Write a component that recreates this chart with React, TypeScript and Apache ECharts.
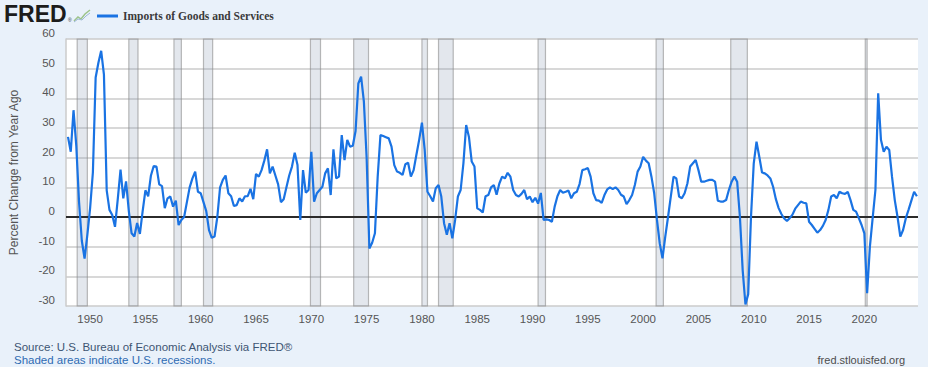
import React, { useEffect, useRef } from "react";
import * as echarts from "echarts";

// Quarterly series, first observation 1948 Q1
const START_YEAR = 1948;
const PERIODS_PER_YEAR = 4;
const importsYoY = [
  27, 22, 36, 24, 5, -8, -14, -6, 3, 15,
  47, 52, 56, 48, 9, 2.4, 0.7, -3.3, 6, 16,
  6.3, 12, 2, -5.5, -6.6, -2, -5.7, 2, 9, 7,
  14, 17.2, 17, 11, 10.4, 3, 6.3, 6.9, 3.5, 5.5,
  -2.7, -1, 0, 5, 10, 13, 15.3, 8.5, 8, 5,
  2, -4.4, -7, -6.6, 0, 10, 12.5, 14, 8, 7,
  3.7, 4, 6.3, 5.2, 7, 7, 9.5, 6, 14.5, 13.6,
  15.8, 19, 22.8, 14.7, 17, 14, 11, 5, 6, 10,
  14, 17, 21.7, 17.5, -1, 15.8, 8.2, 9.1, 22, 5.2,
  8, 9.1, 10.2, 14.7, 16.4, 7.4, 22.8, 13, 13.6, 27.6,
  19.2, 26, 23.7, 24, 29, 45, 47.3, 39, 20, -10.6,
  -8.7, -5.5, 13.6, 27.6, 27.3, 26.9, 26.5, 23.7, 17.5, 15.3,
  14.9, 14.2, 17.8, 18.3, 13.6, 15.8, 21, 26, 31.8, 22.6,
  8.5, 7, 5.2, 9.7, 10.8, 6.9, -2.1, -6, -2.1, -7.2,
  -1, 6.9, 9.1, 18.1, 31, 27, 18.7, 17, 2.9, 2.4,
  1.5, 7, 7.4, 10, 10.8, 7.5, 11.3, 13.6, 13, 14.9,
  13.6, 9.1, 7.4, 6.9, 7.8, 9.1, 6, 6.9, 5, 6.5,
  4.5, 8.1, -1, -0.8, -1, -1.6, 3.5, 7, 9.1, 8.2,
  8.5, 8.9, 6.3, 8, 8.5, 11.1, 15.8, 16.1, 16.5, 13.6,
  8, 5.7, 5.5, 4.8, 7.4, 9.3, 10, 9.4, 10, 9.1,
  7.5, 6.9, 4.3, 5.7, 7.4, 10.8, 15.3, 17, 20.3, 19,
  18.1, 13.6, 8, -1, -8.9, -13.9, -6.6, 0, 6.9, 13.6,
  13, 6.9, 6.3, 8, 11.3, 17, 18.1, 19.2, 15.8, 11.9,
  11.9, 12.2, 12.5, 12.5, 11.9, 5.5, 5.2, 5.2, 5.7, 9.1,
  11.9, 13.6, 11.9, 0, -18, -29.5, -26, 0, 18.1, 25.4,
  20.3, 15, 14.7, 14, 13, 10.2, 6, 3, 1, -0.5,
  -1.3, -0.4, 0.8, 2.8, 4, 5.2, 4.8, 4.6, -1.6, -2.7,
  -4, -5.3, -4.4, -3, -1, 2.4, 6.9, 7.4, 6.3, 8.5,
  8, 7.8, 8.5, 5.7, 2.4, 1.8, -0.4, -2.7, -5.5, -25.7,
  -10, -0.4, 9.1, 41.7, 26, 22, 23.7, 22.6, 13.6, 5.7,
  0, -6.6, -4.4, -0.4, 2.5, 5.5, 8.5, 7,
];

// NBER recessions (decimal years, monthly dates)
const recessionStarts = [1948.83, 1953.5, 1957.58, 1960.25, 1969.92, 1973.83, 1980.0, 1981.5, 1990.5, 2001.17, 2007.92, 2020.08];
const recessionEnds = [1949.75, 1954.33, 1958.25, 1961.08, 1970.83, 1975.17, 1980.5, 1982.83, 1991.17, 2001.83, 2009.42, 2020.25];

const xTickYears = [1950, 1955, 1960, 1965, 1970, 1975, 1980, 1985, 1990, 1995, 2000, 2005, 2010, 2015, 2020];
const yMin = -30;
const yMax = 60;
const yStep = 10;

const SERIES_NAME = "Imports of Goods and Services";
const Y_TITLE = "Percent Change from Year Ago";
const SOURCE_TEXT = "Source: U.S. Bureau of Economic Analysis via FRED\u00AE";
const SHADED_TEXT = "Shaded areas indicate U.S. recessions.";
const SITE_TEXT = "fred.stlouisfed.org";

const BLUE = "#1a73e3";
const GRID = "#cbcbcb";
const SANS = '"Liberation Sans", Arial, sans-serif';
const SERIF = '"Liberation Serif", "Times New Roman", serif';

export default function App() {
  const ref = useRef<HTMLDivElement>(null);

  useEffect(() => {
    if (!ref.current) return;
    const chart = echarts.init(ref.current, null, { renderer: "svg" });

    const points = importsYoY.map((v, i) => [START_YEAR + i / PERIODS_PER_YEAR, v]);
    const areas = recessionStarts.map((s, i) => [{ xAxis: s }, { xAxis: recessionEnds[i] }]);

    chart.setOption({
      animation: false,
      backgroundColor: "#e9f1fa",
      grid: { left: 63, right: 10, top: 39, bottom: 61, backgroundColor: "#ffffff", show: true, borderWidth: 0 },
      xAxis: {
        type: "value",
        min: 1947.82,
        max: 2024.85,
        axisLine: { show: false },
        axisTick: { show: false },
        splitLine: { show: false },
        axisLabel: {
          customValues: xTickYears,
          formatter: (v: number) => String(Math.round(v)),
          color: "#555555",
          fontSize: 11.5,
          fontFamily: SANS,
          margin: 7,
        },
      },
      yAxis: {
        type: "value",
        min: yMin,
        max: yMax,
        interval: yStep,
        name: Y_TITLE,
        nameLocation: "middle",
        nameRotate: 90,
        nameGap: 46,
        nameTextStyle: { color: "#555555", fontSize: 12, fontFamily: SANS },
        axisLine: { show: true, lineStyle: { color: GRID, width: 1.5 } },
        axisTick: { show: false },
        splitLine: { show: true, lineStyle: { color: GRID, width: 1.5 } },
        axisLabel: {
          color: "#555555",
          fontSize: 11.5,
          fontFamily: SANS,
          margin: 11,
          verticalAlign: "bottom",
        },
      },
      series: [
        {
          name: SERIES_NAME,
          type: "line",
          data: points,
          showSymbol: false,
          symbol: "none",
          lineStyle: { color: BLUE, width: 2.2 },
          itemStyle: { color: BLUE },
          z: 5,
          markArea: {
            silent: true,
            itemStyle: { color: "rgba(140,155,178,0.24)", borderColor: "rgba(140,140,140,0.6)", borderWidth: 1.2 },
            data: areas,
          },
          markLine: {
            silent: true,
            symbol: ["none", "none"],
            label: { show: false },
            lineStyle: { color: "#2b2b2b", width: 2, type: "solid" },
            data: [{ yAxis: 0 }],
          },
        },
      ],
      graphic: [
        {
          type: "text",
          left: 4,
          top: 2,
          style: { text: "FRED", fontSize: 23, fontWeight: "bold", fontFamily: SANS, fill: "#1c1c1c" },
        },
        {
          type: "text",
          left: 68,
          top: 17,
          style: { text: "\u00AE", fontSize: 5, fontFamily: SANS, fill: "#333" },
        },
        {
          type: "polyline",
          shape: { points: [[74, 21], [78, 17], [81, 19], [85, 14], [90, 10]] },
          style: { stroke: "#9cc38a", lineWidth: 1.5, fill: "none" },
        },
        {
          type: "polyline",
          shape: { points: [[74, 22], [78, 19], [82, 20], [86, 16], [90, 13]] },
          style: { stroke: "#9db7d6", lineWidth: 1, fill: "none" },
        },
        {
          type: "line",
          shape: { x1: 97, y1: 16, x2: 118, y2: 16 },
          style: { stroke: BLUE, lineWidth: 3 },
        },
        {
          type: "text",
          x: 123,
          y: 16,
          style: { text: SERIES_NAME, fontSize: 11.5, fontWeight: "bold", fontFamily: SERIF, fill: "#3a3a3a", verticalAlign: "middle" },
        },
        {
          type: "text",
          x: 14,
          y: 347,
          style: { text: SOURCE_TEXT, fontSize: 11.5, fontFamily: SANS, fill: "#3d5573", verticalAlign: "middle" },
        },
        {
          type: "text",
          x: 14,
          y: 360,
          style: { text: SHADED_TEXT, fontSize: 11.5, fontFamily: SANS, fill: "#2f6bb3", verticalAlign: "middle" },
        },
        {
          type: "text",
          x: 905,
          y: 360,
          style: { text: SITE_TEXT, fontSize: 11, fontFamily: SANS, fill: "#4d4d4d", align: "right", verticalAlign: "middle" },
        },
      ],
    });

    return () => chart.dispose();
  }, []);

  return (
    <div
      ref={ref}
      style={{ position: "fixed", left: 0, top: 0, width: 928, height: 367 }}
    />
  );
}
